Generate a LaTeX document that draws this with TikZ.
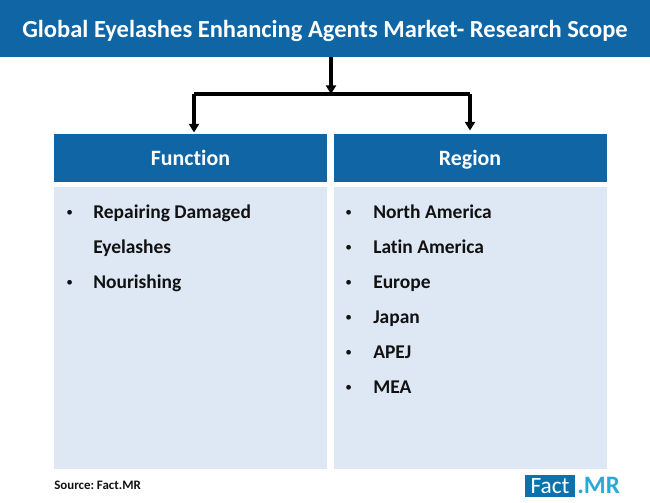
\documentclass[tikz,border=0pt]{standalone}
\usepackage{fontspec}
\setmainfont[Ligatures=NoCommon]{Carlito}
\usetikzlibrary{arrows.meta}
\definecolor{hdrblue}{HTML}{1065A4}
\definecolor{panelblue}{HTML}{DEE8F5}
\definecolor{logoblue}{HTML}{0C72AD}
\definecolor{logocyan}{HTML}{2BA9D6}
\definecolor{inktext}{HTML}{111111}
\tikzset{
  bar/.style={anchor=base,inner sep=0pt,text=white,font=\bfseries\fontsize{16.4}{18}\selectfont},
  itemtext/.style={anchor=base west,inner sep=0pt,text=inktext,font=\bfseries\fontsize{14.6}{16}\selectfont},
  bulletmark/.style={anchor=base west,inner sep=0pt,text=inktext,font=\fontsize{10}{12}\selectfont},
  link/.style={draw=black,line width=2.3pt},
  linkarrow/.style={link,-{Triangle[length=6.5pt,width=7.5pt]}}
}
\begin{document}
\begin{tikzpicture}[x=0.75pt,y=-0.75pt]
\useasboundingbox (0,0) rectangle (650,503);
% header
\fill[hdrblue] (0,0) rectangle (650,57.5);
\node[anchor=base,inner sep=0pt,text=white,font=\bfseries\fontsize{18.4}{22}\selectfont] (title) at (325,37.5) {Global Eyelashes Enhancing Agents Market- Research Scope};
\coordinate (top) at (331,57.5);
% column heads
\fill[hdrblue] (54,134) rectangle (327,182);
\fill[hdrblue] (334,134) rectangle (606.5,182);
\node[bar] (func) at (190.5,165) {Function};
\node[bar] (reg) at (470,165) {Region};
% panels
\fill[panelblue] (54,187) rectangle (327,469);
\fill[panelblue] (334,187) rectangle (606.5,469);
% connectors
\coordinate (join) at (331,94);
\coordinate (jl) at (194,94);
\coordinate (jr) at (470,94);
\coordinate (fa) at (194,132.5);
\coordinate (ra) at (470,130.5);
\draw[linkarrow] (top) -- (join);
\draw[link,line cap=square] (jl) -- (jr);
\draw[linkarrow] (jl) -- (fa);
\draw[linkarrow] (jr) -- (ra);
% left list
\node[bulletmark] (b1) at (66,216) {•};
\node[itemtext] (t1) at (93,218) {Repairing Damaged};
\node[itemtext] (t1b) at (93,253) {Eyelashes};
\node[bulletmark] (b2) at (66,286) {•};
\node[itemtext] (t2) at (93,288) {Nourishing};
% right list
\node[bulletmark] (r1b) at (345,216) {•};
\node[itemtext] (r1) at (373,218) {North America};
\node[bulletmark] (r2b) at (345,251) {•};
\node[itemtext] (r2) at (373,253) {Latin America};
\node[bulletmark] (r3b) at (345,286) {•};
\node[itemtext] (r3) at (373,288) {Europe};
\node[bulletmark] (r4b) at (345,321) {•};
\node[itemtext] (r4) at (373,323) {Japan};
\node[bulletmark] (r5b) at (345,356) {•};
\node[itemtext] (r5) at (373,358) {APEJ};
\node[bulletmark] (r6b) at (345,391) {•};
\node[itemtext] (r6) at (373,393) {MEA};
% footer
\node[anchor=base west,inner sep=0pt,text=inktext,font=\bfseries\fontsize{9.7}{12}\selectfont] (src) at (54,489) {Source:\hspace{-0.8pt} Fact.MR};
\fill[logoblue] (525,475) rectangle (575,497);
\node[anchor=base,inner sep=0pt,text=white,font=\fontsize{17.5}{20}\selectfont] (lf) at (550,493) {Fact};
\node[anchor=base west,inner sep=0pt,text=logocyan,font=\bfseries\fontsize{18.8}{20}\selectfont] (lm) at (577,493) {.MR};
\end{tikzpicture}
\end{document}
